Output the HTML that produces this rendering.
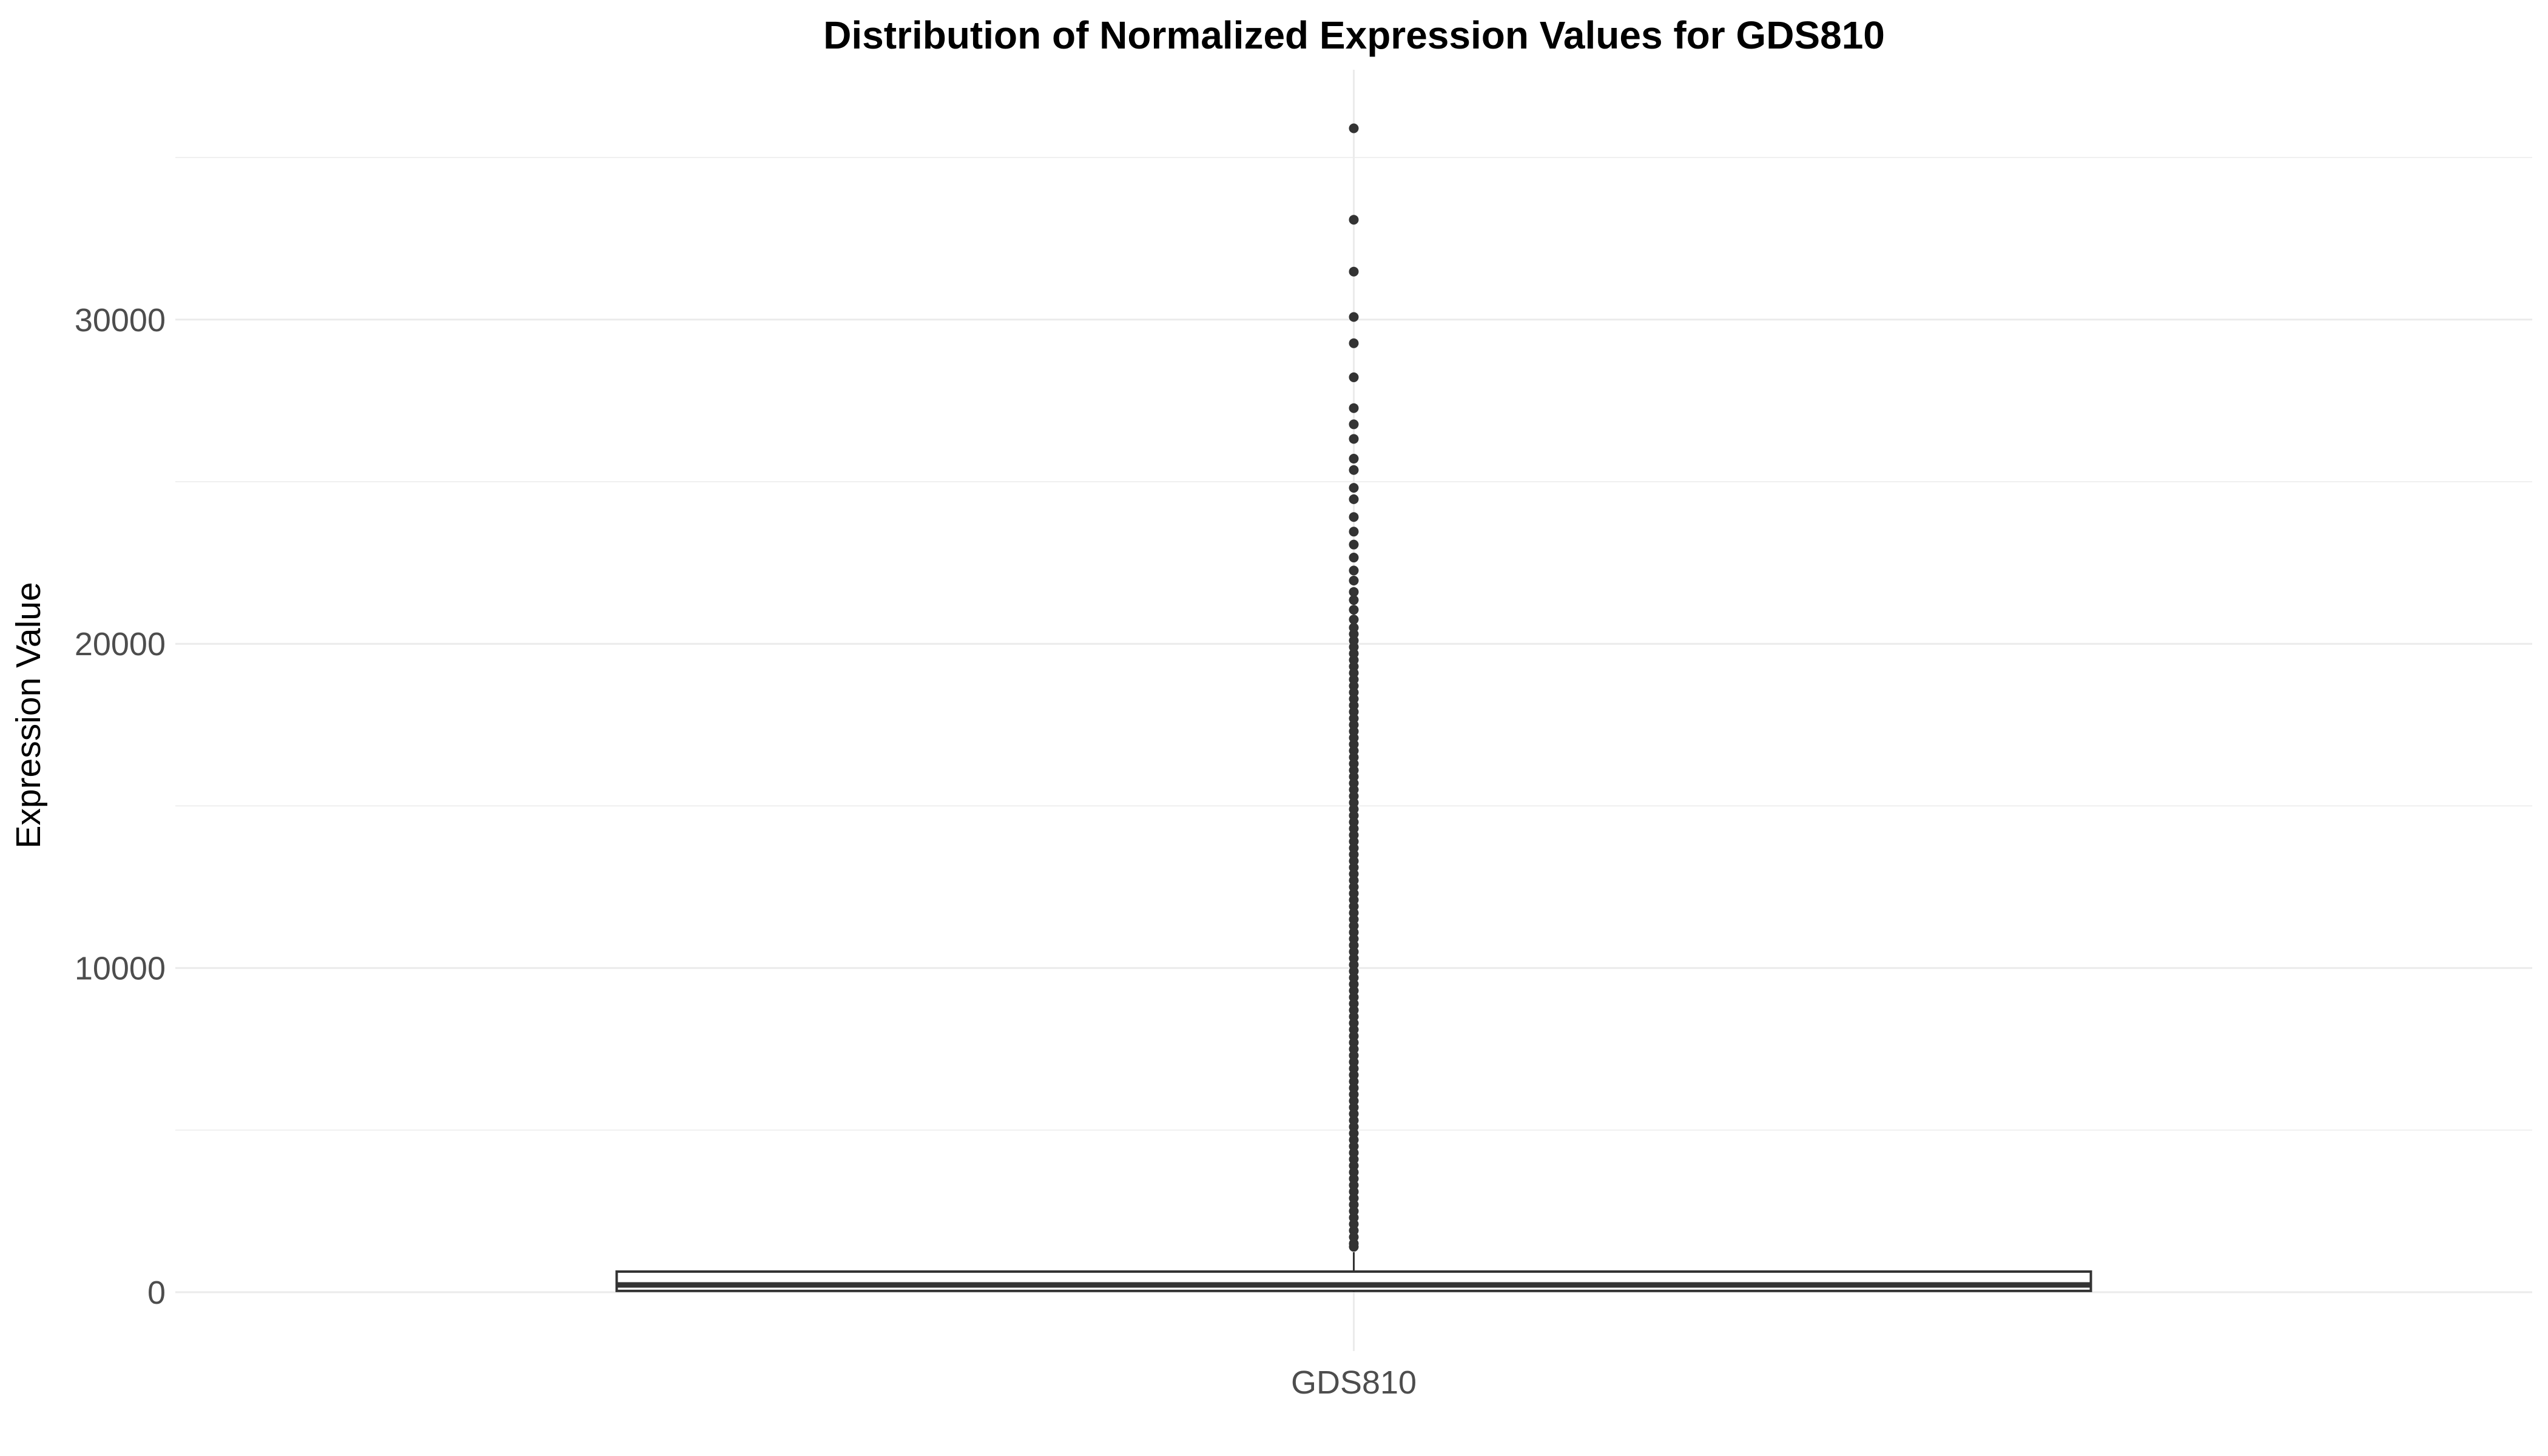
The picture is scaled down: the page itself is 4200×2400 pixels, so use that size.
<!DOCTYPE html>
<html><head><meta charset="utf-8"><style>
body{margin:0;background:#fff}
svg{display:block;font-family:"Liberation Sans",Arial,sans-serif}
</style></head><body>
<svg id="chart" width="4200" height="2400" viewBox="0 0 4200 2400">
<rect width="4200" height="2400" fill="#fff"/>
<g id="grid"></g>
<g id="marks"></g>
<g id="axes"></g>
<text x="2232" y="80" text-anchor="middle" font-size="64" font-weight="bold" fill="#000">Distribution of Normalized Expression Values for GDS810</text>
<text transform="translate(66,1179) rotate(-90)" text-anchor="middle" font-size="57" fill="#000">Expression Value</text>
</svg>
<script>
const categories = ["GDS810"];
const boxStats = [40, 225, 636]; // q1, median, q3
const whiskers = [0, 1235];
const yTicks = [0, 10000, 20000, 30000];
const yMinorTicks = [5000, 15000, 25000, 35000];
const outliersSparse = [35900, 33080, 31480, 30080, 29270, 28220, 27270, 26770, 26320, 25710, 25360, 24810, 24460, 23910, 23460, 23060, 22660, 22260, 21950, 21600, 21350, 21050, 20750];
const outliersDense = [20500,20300,20100,19900,19700,19500,19300,19100,18900,18700,18500,18300,18100,17900,17700,17500,17300,17100,16900,16700,16500,16300,16100,15900,15700,15500,15300,15100,14900,14700,14500,14300,14100,13900,13700,13500,13300,13100,12900,12700,12500,12300,12100,11900,11700,11500,11300,11100,10900,10700,10500,10300,10100,9900,9700,9500,9300,9100,8900,8700,8500,8300,8100,7900,7700,7500,7300,7100,6900,6700,6500,6300,6100,5900,5700,5500,5300,5100,4900,4700,4500,4300,4100,3900,3700,3500,3300,3100,2900,2700,2500,2300,2100,1900,1700,1500,1400];

const NS="http://www.w3.org/2000/svg";
const plotL=289, plotR=4174, plotT=115, plotB=2227;
const y0px=2130, pxPerUnit=534.4/10000;
function yScale(v){return y0px - v*pxPerUnit;}
function xScale(i){return plotL + (plotR-plotL)*(i+0.5)/categories.length;}
function mk(tag,attrs,parent){const e=document.createElementNS(NS,tag);for(const k in attrs)e.setAttribute(k,attrs[k]);parent.appendChild(e);return e;}
const grid=document.getElementById('grid'), marks=document.getElementById('marks'), axes=document.getElementById('axes');

yMinorTicks.forEach(t=>{
  const l=mk('line',{x1:plotL,x2:plotR,y1:yScale(t),y2:yScale(t),stroke:'#ebebeb','stroke-width':1.5},grid);
  
  
});
yTicks.forEach(t=>{
  const l=mk('line',{x1:plotL,x2:plotR,y1:yScale(t),y2:yScale(t),stroke:'#ebebeb','stroke-width':3},grid);
  
  
  const tx=mk('text',{x:273,y:yScale(t)+19,'text-anchor':'end','font-size':54,fill:'#4d4d4d'},axes);
  tx.textContent=String(t);
  
  
});
categories.forEach((c,i)=>{
  const cx=xScale(i);
  const vl=mk('line',{x1:cx,x2:cx,y1:plotT,y2:plotB,stroke:'#ebebeb','stroke-width':3},grid);
  
  
  const lab=mk('text',{x:cx,y:2297,'text-anchor':'middle','font-size':54,fill:'#4d4d4d'},axes);
  lab.textContent=c;
  
  
  const halfW=1215;
  const wh=mk('line',{x1:cx,x2:cx,y1:yScale(whiskers[1]),y2:yScale(boxStats[2]),stroke:'#333','stroke-width':3},marks);
  
  
  const wl=mk('line',{x1:cx,x2:cx,y1:yScale(boxStats[0]),y2:yScale(whiskers[0]),stroke:'#333','stroke-width':3},marks);
  
  
  const box=mk('rect',{x:cx-halfW,y:yScale(boxStats[2]),width:2*halfW,height:yScale(boxStats[0])-yScale(boxStats[2]),fill:'#fff',stroke:'#333','stroke-width':4},marks);
  
  
  const med=mk('line',{x1:cx-halfW,x2:cx+halfW,y1:yScale(boxStats[1]),y2:yScale(boxStats[1]),stroke:'#333','stroke-width':9},marks);
  
  
  outliersSparse.concat(outliersDense).forEach(v=>{
    const p=mk('circle',{cx:cx,cy:yScale(v),r:8,fill:'#333'},marks);
    
    
  });
});
</script>
</body></html>
